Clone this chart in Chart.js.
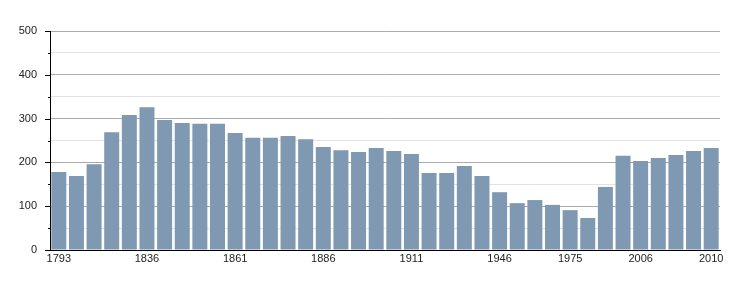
<!DOCTYPE html>
<html>
<head>
<meta charset="utf-8">
<script src="https://cdn.jsdelivr.net/npm/chart.js@4/dist/chart.umd.min.js"></script>
<style>
  body { margin: 0; background: #fff; }
  #wrap { width: 750px; height: 300px; }
</style>
</head>
<body>
<div id="wrap"><canvas id="pop" width="750" height="300"></canvas></div>
<script>
// census years and population
const years = ['1793', '1800', '1806', '1821', '1831', '1836', '1841', '1846', '1851', '1856',
  '1861', '1866', '1872', '1876', '1881', '1886', '1891', '1896', '1901', '1906',
  '1911', '1921', '1926', '1931', '1936', '1946', '1954', '1962', '1968', '1975',
  '1982', '1990', '1999', '2006', '2007', '2008', '2009', '2010'];
const population = [178, 169, 196, 269, 308, 326, 297, 290, 288, 288,
  267, 256, 256, 260, 253, 235, 228, 224, 233, 226,
  219, 176, 176, 192, 169, 132, 107, 114, 103, 91,
  73, 144, 215, 203, 210, 217, 226, 233];
// only these years get a label under the axis
const shownYears = ['1793', '1836', '1861', '1886', '1911', '1946', '1975', '2006', '2010'];
const yTicks = [0, 100, 200, 300, 400, 500];

const FONT = { family: 'Liberation Sans, Arial, sans-serif', size: 11 };

// little tick marks on the left axis: long on hundreds, short on fifties
const yTickMarks = {
  id: 'yTickMarks',
  afterDraw(chart) {
    const y = chart.scales.y;
    const ctx = chart.ctx;
    ctx.save();
    ctx.strokeStyle = '#000';
    ctx.lineWidth = 1;
    y.ticks.forEach(t => {
      const py = Math.round(y.getPixelForValue(t.value)) + 0.5;
      const len = t.value % 100 === 0 ? 5 : 2;
      ctx.beginPath();
      ctx.moveTo(y.right, py);
      ctx.lineTo(y.right - len, py);
      ctx.stroke();
    });
    ctx.restore();
  }
};

new Chart(document.getElementById('pop'), {
  type: 'bar',
  data: {
    labels: years,
    datasets: [{
      data: population,
      backgroundColor: '#7f99b2',
      borderWidth: 0,
      categoryPercentage: 1,
      barPercentage: 0.85
    }]
  },
  options: {
    responsive: false,
    animation: false,
    layout: { padding: { top: 31, right: 30, left: 0, bottom: 0 } },
    plugins: { legend: { display: false }, tooltip: { enabled: false } },
    scales: {
      x: {
        grid: { display: false, drawTicks: false },
        border: { display: true, color: '#000', width: 1 },
        afterFit(scale) { scale.height = 50; },
        ticks: {
          autoSkip: false,
          maxRotation: 0,
          padding: 2,
          color: '#222',
          font: FONT,
          callback(v) {
            const y = years[v];
            return shownYears.includes(y) ? y : '';
          }
        }
      },
      y: {
        min: 0,
        max: 500,
        afterFit(scale) { scale.width = 50; },
        border: { display: true, color: '#000', width: 1 },
        grid: {
          drawTicks: false,
          color(c) { return c.tick && c.tick.value % 100 === 0 ? '#aaaaaa' : '#e2e2e2'; }
        },
        ticks: {
          stepSize: 50,
          padding: 13,
          color: '#222',
          font: FONT,
          callback(v) { return yTicks.includes(v) ? String(v) : ''; }
        }
      }
    }
  },
  plugins: [yTickMarks]
});
</script>
</body>
</html>
